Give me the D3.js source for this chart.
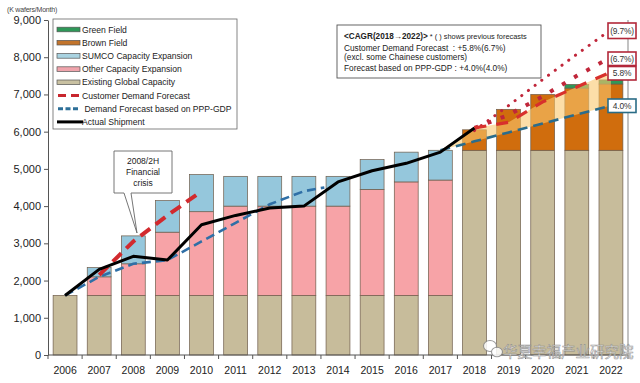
<!DOCTYPE html>
<html><head><meta charset="utf-8">
<script src="https://cdn.jsdelivr.net/npm/d3@7/dist/d3.min.js"></script>
<style>
html,body{margin:0;padding:0;background:#fff;}
svg{display:block;font-family:"Liberation Sans",Arial,sans-serif;}
</style></head>
<body><svg id="c" width="640" height="383"></svg>
<script>
// ---------- data ----------
const years = [2006,2007,2008,2009,2010,2011,2012,2013,2014,2015,2016,2017,2018,2019,2020,2021,2022];
const existingCap = [1600,1600,1600,1600,1600,1600,1600,1600,1600,1600,1600,1600,5500,5500,5500,5500,5500];
const otherExp    = [0,500,850,1700,2250,2400,2400,2400,2400,2850,3050,3100,0,0,0,0,0];
const sumcoExp    = [0,250,750,850,1000,800,800,800,800,800,800,800,0,0,0,0,0];
const brownField  = [0,0,0,0,0,0,0,0,0,0,0,0,550,1100,1500,1670,1780];
const greenField  = [0,0,0,0,0,0,0,0,0,0,0,0,0,0,0,100,110];

const actualYears = [2006,2007,2008,2009,2010,2011,2012,2013,2014,2015,2016,2017,2018];
const actualVals  = [1600,2300,2650,2550,3500,3750,3950,4000,4650,4950,5150,5450,6100];
const custHistYears = [2007,2008,2009,2010];
const custHistVals  = [2150,3050,3750,4400];
const gdpHistYears = [2006,2007,2008,2009,2010,2011,2012,2013,2013.6];
const gdpHistVals  = [1600,2100,2450,2550,3050,3550,4050,4400,4500];

const fcYears   = [2017,2018,2019,2020,2021,2022];
const gdpFc     = [5500,5740,5980,6220,6460,6700];
const custFc    = [5500,6100,6250,6800,7200,7600];
const prevFcYears = [2018,2019,2020,2021,2022];
const prevCustFc  = [6100,6450,6950,7500,8000];
const highFc      = [6030,6700,7400,8080,8740];

const yTicks = [0,1000,2000,3000,4000,5000,6000,7000,8000,9000];

const seriesKeys = ["existing","other","sumco","brown","green"];
const seriesColors = {existing:"#c7bc9b", other:"#f7a3a7", sumco:"#95c7dc", brown:"#d06d0d", green:"#2e9858"};

const legendItems = [
  {label:"Green Field", type:"rect", color:"#2e9858"},
  {label:"Brown Field", type:"rect", color:"#c2742c"},
  {label:"SUMCO Capacity Expansion", type:"rect", color:"#a9d3e1"},
  {label:"Other Capacity Expansion", type:"rect", color:"#f0a4ac"},
  {label:"Existing Global Capacity", type:"rect", color:"#c9c1a2"},
  {label:"Customer Demand Forecast", type:"redDash", color:"#c8262e"},
  {label:" Demand Forecast based on PPP-GDP", type:"blueDash", color:"#2d6f98"},
  {label:"Actual Shipment", type:"line", color:"#000"}
];

const rightLabels = [
  {text:"(9.7%)", color:"#b2283a"},
  {text:"(6.7%)", color:"#b2283a"},
  {text:"5.8%", color:"#b2283a"},
  {text:"4.0%", color:"#2a6c86"}
];

// ---------- chart ----------
const svg = d3.select("#c");
const x = d3.scaleBand().domain(years).range([48,628]).paddingInner(0.3).paddingOuter(0.15);
const y = d3.scaleLinear().domain([0,9000]).range([355,20]);
const xc = yr => x(years[0]) + x.bandwidth()/2 + (yr - years[0]) * x.step();

const table = years.map((yr,i)=>({year:yr, existing:existingCap[i], other:otherExp[i], sumco:sumcoExp[i], brown:brownField[i], green:greenField[i]}));
const stacked = d3.stack().keys(seriesKeys)(table);

// y axis label
svg.append("text").attr("x",7).attr("y",12).attr("font-size",7).attr("fill","#444")
  .attr("letter-spacing","-0.2").text("(K wafers/Month)");

// y axis
const yAxis = svg.append("g").attr("transform","translate(48,0)")
  .call(d3.axisLeft(y).tickValues(yTicks).tickFormat(d3.format(",")).tickSize(4).tickSizeOuter(0).tickPadding(3));
yAxis.select(".domain").attr("stroke","#555");
yAxis.selectAll(".tick line").attr("stroke","#555");
yAxis.selectAll("text").attr("font-size",11).attr("fill","#222").attr("font-family","Liberation Sans, Arial, sans-serif");

// right border line
svg.append("line").attr("x1",628).attr("x2",628).attr("y1",y(9000)).attr("y2",y(0)).attr("stroke","#9a9a9a").attr("stroke-width",1.2);

// bars
const gBars = svg.append("g");
stacked.forEach(s=>{
  gBars.selectAll(null).data(s.filter(d=>d[1]-d[0]>0)).enter().append("rect")
    .attr("x",d=>x(d.data.year)).attr("width",x.bandwidth())
    .attr("y",d=>y(d[1])).attr("height",d=>y(d[0])-y(d[1]))
    .attr("fill",seriesColors[s.key]).attr("stroke","#6e5c4a").attr("stroke-width",0.7);
});

// x axis
const gx = svg.append("g").attr("transform","translate(0,355)");
gx.append("line").attr("x1",48).attr("x2",628).attr("stroke","#555");
const gap = (x.step()-x.bandwidth())/2;
const bounds = years.map(yr=>x(yr)-gap).concat([x(years[years.length-1])+x.bandwidth()+gap]);
gx.selectAll(".bt").data(bounds).enter().append("line")
  .attr("x1",d=>d).attr("x2",d=>d).attr("y1",0).attr("y2",4).attr("stroke","#555");
gx.selectAll(".xl").data(years).enter().append("text")
  .attr("x",d=>xc(d)).attr("y",19).attr("text-anchor","middle").attr("font-size",10.5).attr("fill","#222").text(d=>d);

// forecast fan
const fanData = fcYears.map((yr,i)=>({yr, lo:gdpFc[i], hi:custFc[i]}));
svg.append("path").datum(fanData)
  .attr("d", d3.area().x(d=>xc(d.yr)).y0(d=>y(d.lo)).y1(d=>y(d.hi)))
  .attr("fill","#fac86e").attr("opacity",0.6);

const line = d3.line().x(d=>xc(d[0])).y(d=>y(d[1]));
const zip = (a,b)=>a.map((v,i)=>[v,b[i]]);

// historical lines
svg.append("path").datum(zip(gdpHistYears,gdpHistVals)).attr("d",line)
  .attr("fill","none").attr("stroke","#2f6fa6").attr("stroke-width",2.6).attr("stroke-dasharray","9,5");
svg.append("path").datum(zip(custHistYears,custHistVals)).attr("d",line)
  .attr("fill","none").attr("stroke","#d22a2e").attr("stroke-width",4).attr("stroke-dasharray","12,7");

// forecast lines
svg.append("path").datum(zip(fcYears,gdpFc)).attr("d",line)
  .attr("fill","none").attr("stroke","#2a6c8c").attr("stroke-width",2.6).attr("stroke-dasharray","10,6");
svg.append("path").datum(zip(prevFcYears,highFc)).attr("d",line)
  .attr("fill","none").attr("stroke","#c0263a").attr("stroke-width",3).attr("stroke-linecap","round").attr("stroke-dasharray","0.1,8.3");
svg.append("path").datum(zip(prevFcYears,prevCustFc)).attr("d",line)
  .attr("fill","none").attr("stroke","#c0263a").attr("stroke-width",4).attr("stroke-dasharray","4,10");
svg.append("path").datum(zip(fcYears.slice(1),custFc.slice(1))).attr("d",line)
  .attr("fill","none").attr("stroke","#d8302c").attr("stroke-width",3.2).attr("stroke-dasharray","12,10");

// actual shipment
svg.append("path").datum(zip(actualYears,actualVals)).attr("d",line)
  .attr("fill","none").attr("stroke","#000").attr("stroke-width",3).attr("stroke-linejoin","round");

// legend
const lg = svg.append("g");
lg.append("rect").attr("x",53).attr("y",19).attr("width",184).attr("height",110)
  .attr("fill","#fff").attr("stroke","#666").attr("stroke-width",0.8);
legendItems.forEach((it,i)=>{
  const cy = 29.5 + i*13.2;
  if(it.type==="rect"){
    lg.append("rect").attr("x",57).attr("y",cy-2.3).attr("width",23).attr("height",4.6)
      .attr("fill",it.color).attr("stroke","#555").attr("stroke-width",0.7);
  } else if(it.type==="redDash"){
    lg.append("line").attr("x1",58).attr("x2",80).attr("y1",cy).attr("y2",cy)
      .attr("stroke",it.color).attr("stroke-width",3).attr("stroke-dasharray","8,5");
  } else if(it.type==="blueDash"){
    lg.append("line").attr("x1",58).attr("x2",80).attr("y1",cy).attr("y2",cy)
      .attr("stroke",it.color).attr("stroke-width",3).attr("stroke-dasharray","5,2.5");
  } else {
    lg.append("line").attr("x1",57).attr("x2",83).attr("y1",cy).attr("y2",cy)
      .attr("stroke",it.color).attr("stroke-width",3);
  }
  lg.append("text").attr("x",82).attr("y",cy+3.1).attr("font-size",8.6).attr("fill","#222")
    .style("white-space","pre").text(it.label);
});

// CAGR annotation box
const ab = svg.append("g");
ab.append("rect").attr("x",337).attr("y",25).attr("width",204).attr("height",53)
  .attr("fill","#fff").attr("stroke","#555").attr("stroke-width",0.9);
const t1 = ab.append("text").attr("x",344).attr("y",39).attr("font-size",8.2).attr("fill","#222");
t1.append("tspan").attr("font-weight","bold").text("<CAGR(2018→2022)>");
t1.append("tspan").attr("font-size",7.4).text(" * ( ) shows previous forecasts");
ab.append("text").attr("x",344).attr("y",50.5).attr("font-size",8.3).attr("fill","#222").style("white-space","pre").text("Customer Demand Forecast  : +5.8%(6.7%)");
ab.append("text").attr("x",344).attr("y",59.5).attr("font-size",8.3).attr("fill","#222").text("(excl. some Chainese customers)");
ab.append("text").attr("x",344).attr("y",70.5).attr("font-size",8.3).attr("fill","#222").text("Forecast based on PPP-GDP : +4.0%(4.0%)");

// callout
const co = svg.append("g");
co.append("path").attr("d","M114,151 H172 V193 H131 L137,233 L124,193 H114 Z")
  .attr("fill","#fff").attr("stroke","#666").attr("stroke-width",0.9);
["2008/2H","Financial","crisis"].forEach((s,i)=>{
  co.append("text").attr("x",143).attr("y",164+i*11).attr("text-anchor","middle")
    .attr("font-size",8.5).attr("fill","#222").text(s);
});

// right labels
const rl = svg.append("g");
const boxY = [23,52,66.5,99];
rightLabels.forEach((d,i)=>{
  const h = i===0?15.5:13.5;
  rl.append("rect").attr("x",608).attr("y",boxY[i]).attr("width",28).attr("height",h)
    .attr("fill","#fff").attr("stroke",d.color).attr("stroke-width",1.6);
  rl.append("text").attr("x",622).attr("y",boxY[i]+h/2+3.2).attr("text-anchor","middle")
    .attr("font-size",8.4).attr("letter-spacing","-0.2").attr("fill","#333").text(d.text);
});

// watermark
const wm = svg.append("g").attr("opacity",0.85);
wm.append("ellipse").attr("cx",490).attr("cy",346).attr("rx",6.5).attr("ry",5.5).attr("fill","#fff").attr("stroke","#8a8a8a").attr("stroke-width",1.1);
wm.append("ellipse").attr("cx",497).attr("cy",352).attr("rx",5.5).attr("ry",4.8).attr("fill","#fff").attr("stroke","#8a8a8a").attr("stroke-width",1.1);
wm.append("text").attr("x",503).attr("y",357).attr("font-size",14.5)
  .attr("font-family","Noto Sans CJK SC, sans-serif").attr("fill","#fff").attr("stroke","#8a8a8a").attr("stroke-width",0.6)
  .text("华夏幸福产业研究院");
</script></body></html>
